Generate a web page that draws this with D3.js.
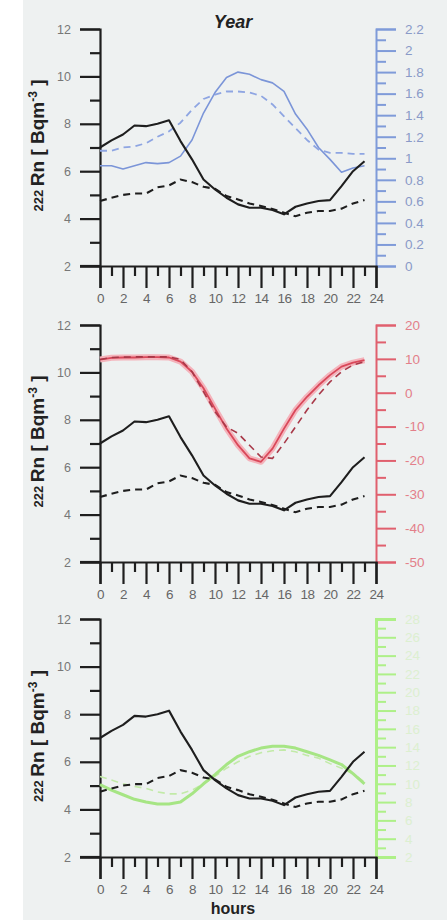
<!DOCTYPE html>
<html><head><meta charset="utf-8">
<script src="https://cdn.jsdelivr.net/npm/d3@7"></script>
<style>body{margin:0;background:#fff}svg{display:block}</style>
</head><body>
<script>
const hours = d3.range(0, 24);
const radonSolid = [7.0,7.3,7.55,7.93,7.9,8.0,8.15,7.27,6.5,5.65,5.23,4.88,4.6,4.46,4.46,4.36,4.18,4.5,4.64,4.74,4.78,5.37,6.0,6.42];
const radonDashed = [4.74,4.88,5.0,5.06,5.06,5.32,5.4,5.65,5.54,5.34,5.26,4.95,4.81,4.64,4.53,4.4,4.25,4.1,4.25,4.32,4.32,4.42,4.64,4.78];
const blueSolid = [0.93,0.93,0.9,0.93,0.96,0.95,0.96,1.02,1.17,1.42,1.61,1.75,1.8,1.78,1.73,1.7,1.62,1.41,1.27,1.1,0.99,0.87,0.91,0.93];
const blueDashed = [1.07,1.07,1.1,1.11,1.14,1.2,1.25,1.33,1.45,1.55,1.59,1.62,1.62,1.61,1.58,1.5,1.39,1.28,1.17,1.08,1.05,1.05,1.04,1.04];
const redSolid = [9.8,10.3,10.4,10.4,10.5,10.5,10.4,9.2,6.2,1.3,-4.7,-10.6,-15.5,-19.4,-20.4,-16.5,-10.6,-5.1,-1.2,2.2,5.2,7.7,8.9,9.6];
const redDashed = [9.8,10.4,10.5,10.6,10.6,10.6,10.6,9.8,6.2,0.3,-5.6,-10.1,-12,-15.5,-19,-19.4,-15,-10.1,-5.1,-0.7,3.2,6.2,8.2,9.2];
const greenSolid = [9.9,9.3,8.8,8.3,8.0,7.8,7.8,8.0,8.9,10.0,11.0,12.1,13.0,13.5,13.9,14.1,14.1,13.9,13.5,13.1,12.6,12.1,11.1,10.0];
const greenDashed = [10.8,10.4,10.0,9.7,9.5,9.1,8.9,8.9,9.3,10.0,10.8,11.7,12.4,13.0,13.4,13.6,13.7,13.5,13.1,12.8,12.2,11.7,11.1,10.2];
const leftTicks = [2,4,6,8,10,12];
const xTicks = [0,2,4,6,8,10,12,14,16,18,20,22,24];
const blueTicks = [0,0.2,0.4,0.6,0.8,1,1.2,1.4,1.6,1.8,2,2.2];
const redTicks = [-50,-40,-30,-20,-10,0,10,20];
const greenTicks = [2,4,6,8,10,12,14,16,18,20,22,24,26,28];

const W = 447, H = 920;
const FONT = "Liberation Sans, Arial, sans-serif";
const svg = d3.select("body").append("svg").attr("width", W).attr("height", H);
svg.append("rect").attr("x", 23).attr("y", 0).attr("width", W - 23).attr("height", H).attr("fill", "#eef1f1");

const x = d3.scaleLinear().domain([0, 24]).range([100, 376]);

const panels = [
  {top: 29, bottom: 266, rdom: [0, 2.2], rticks: blueTicks, rminor: d3.range(0.1, 2.2, 0.2),
   axisColor: "#7f9bd9", axisWidth: 2, labelColor: "#8a9ac8",
   fmt: d => d3.format("~g")(d),
   series: [
     {data: blueDashed, color: "#8ea5e2", width: 1.8, dash: "7,5"},
     {data: blueSolid, color: "#7b95d8", width: 1.6}
   ]},
  {top: 325, bottom: 562, rdom: [-50, 20], rticks: redTicks, rminor: d3.range(-45, 20, 10),
   axisColor: "#e0606e", axisWidth: 2, labelColor: "#e37f8a", fmt: d => d,
   series: [
     {data: redSolid, color: "#f4b3bb", width: 6},
     {data: redSolid, color: "#d9485a", width: 1.8},
     {data: redDashed, color: "#a83848", width: 1.6, dash: "7,5"}
   ]},
  {top: 619, bottom: 857, rdom: [2, 28], rticks: greenTicks, rminor: d3.range(3, 28, 2),
   axisColor: "#aef088", axisWidth: 3, labelColor: "#dcefd0", fmt: d => d,
   series: [
     {data: greenDashed, color: "#c2eaa8", width: 1.6, dash: "7,5"},
     {data: greenSolid, color: "#a6e584", width: 3}
   ]}
];

const blackColor = "#1e1e1e";

panels.forEach((p, i) => {
  const g = svg.append("g");
  const y = d3.scaleLinear().domain([2, 12]).range([p.bottom, p.top]);
  const yr = d3.scaleLinear().domain(p.rdom).range([p.bottom, p.top]);

  // right axis
  const rMajor = g.append("g").attr("transform", `translate(376,0)`)
    .call(d3.axisRight(yr).tickValues(p.rticks).tickSize(20).tickPadding(9).tickFormat(p.fmt));
  rMajor.select(".domain").attr("stroke", p.axisColor).attr("stroke-width", p.axisWidth);
  rMajor.selectAll(".tick line").attr("stroke", p.axisColor).attr("stroke-width", 2);
  rMajor.selectAll(".tick text").attr("fill", p.labelColor).attr("font-size", 13.5)
    .attr("font-family", FONT);
  const rMinor = g.append("g").attr("transform", `translate(376,0)`)
    .call(d3.axisRight(yr).tickValues(p.rminor).tickSize(10).tickFormat(""));
  rMinor.select(".domain").remove();
  rMinor.selectAll(".tick line").attr("stroke", p.axisColor).attr("stroke-width", 2);

  // left axis
  const lMajor = g.append("g").attr("transform", `translate(100,0)`)
    .call(d3.axisLeft(y).tickValues(leftTicks).tickSize(20).tickPadding(9));
  lMajor.select(".domain").attr("stroke", blackColor).attr("stroke-width", 2.2);
  lMajor.selectAll(".tick line").attr("stroke", blackColor).attr("stroke-width", 2.2);
  lMajor.selectAll(".tick text").attr("fill", "#777").attr("font-size", 12.5)
    .attr("font-family", FONT);
  const lMinor = g.append("g").attr("transform", `translate(100,0)`)
    .call(d3.axisLeft(y).tickValues([3,5,7,9,11]).tickSize(10).tickFormat(""));
  lMinor.select(".domain").remove();
  lMinor.selectAll(".tick line").attr("stroke", blackColor).attr("stroke-width", 2.2);

  // x axis
  const xMajor = g.append("g").attr("transform", `translate(0,${p.bottom})`)
    .call(d3.axisBottom(x).tickValues(xTicks).tickSize(22).tickPadding(5));
  xMajor.select(".domain").attr("stroke", blackColor).attr("stroke-width", 2.2);
  xMajor.selectAll(".tick line").attr("stroke", blackColor).attr("stroke-width", 2.2);
  xMajor.selectAll(".tick text").attr("fill", "#666").attr("font-size", 13.5)
    .attr("font-family", FONT).attr("letter-spacing", -0.5);
  const xMinor = g.append("g").attr("transform", `translate(0,${p.bottom})`)
    .call(d3.axisBottom(x).tickValues(d3.range(1, 24, 2)).tickSize(10).tickFormat(""));
  xMinor.select(".domain").remove();
  xMinor.selectAll(".tick line").attr("stroke", blackColor).attr("stroke-width", 2.2);
  g.append("line").attr("x1", 80).attr("x2", 100).attr("y1", p.bottom).attr("y2", p.bottom)
    .attr("stroke", blackColor).attr("stroke-width", 2.2);

  // colored series
  const lineR = d3.line().x((d, j) => x(hours[j])).y(d => yr(d));
  p.series.forEach(s => {
    g.append("path").datum(s.data).attr("d", lineR).attr("fill", "none")
      .attr("stroke", s.color).attr("stroke-width", s.width)
      .attr("stroke-dasharray", s.dash || null).attr("stroke-linejoin", "round");
  });

  // radon series
  const lineL = d3.line().x((d, j) => x(hours[j])).y(d => y(d));
  g.append("path").datum(radonDashed).attr("d", lineL).attr("fill", "none")
    .attr("stroke", blackColor).attr("stroke-width", 2.1).attr("stroke-dasharray", "7,5");
  g.append("path").datum(radonSolid).attr("d", lineL).attr("fill", "none")
    .attr("stroke", blackColor).attr("stroke-width", 2.1).attr("stroke-linejoin", "round");

  // y label
  const cy = (p.top + p.bottom) / 2 - 2;
  const t = g.append("text").attr("transform", `translate(44,${cy}) rotate(-90)`)
    .attr("text-anchor", "middle").attr("font-family", FONT)
    .attr("font-weight", "bold").attr("font-size", 19).attr("fill", "#222");
  t.append("tspan").attr("font-size", 13).attr("dy", -1).text("222 ");
  t.append("tspan").attr("dy", 1).text("Rn [ Bqm");
  t.append("tspan").attr("font-size", 12).attr("dy", -7).text("-3");
  t.append("tspan").attr("dy", 7).text(" ]");
});

svg.append("text").attr("x", 233).attr("y", 28).attr("text-anchor", "middle")
  .attr("font-family", FONT).attr("font-weight", "bold")
  .attr("font-style", "italic").attr("font-size", 18).attr("fill", "#222").text("Year");
svg.append("text").attr("x", 233).attr("y", 914).attr("text-anchor", "middle")
  .attr("font-family", FONT).attr("font-weight", "bold")
  .attr("font-size", 16).attr("fill", "#222").text("hours");
</script>
</body></html>
